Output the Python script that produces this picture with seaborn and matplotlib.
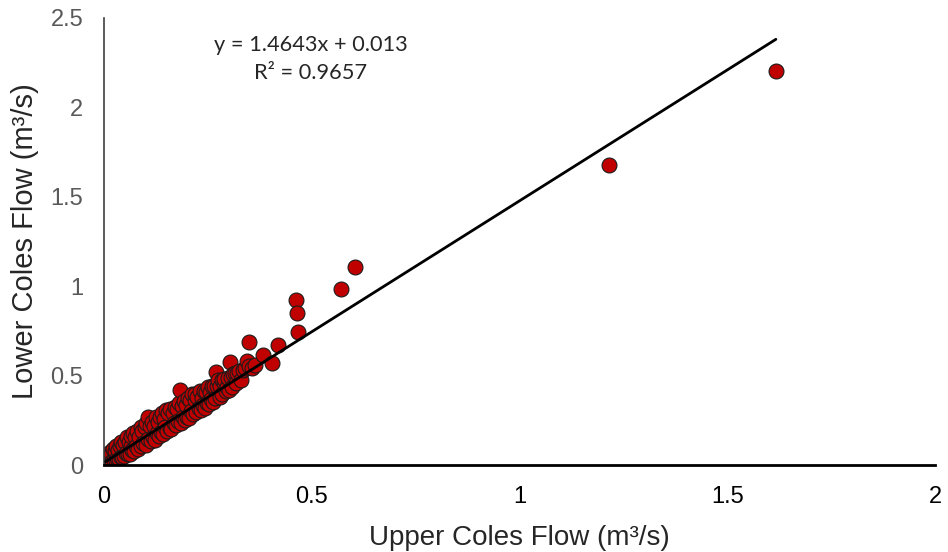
import numpy as np
import pandas as pd
import seaborn as sns
import matplotlib.pyplot as plt

# flows (m3/s)
upper_flow = [0.004, 0.006, 0.008, 0.010, 0.012, 0.014, 0.016, 0.018, 0.020, 0.022,
              0.024, 0.026, 0.028, 0.030, 0.032, 0.034, 0.036, 0.038, 0.040, 0.042,
              0.044, 0.046, 0.048, 0.050, 0.052, 0.055, 0.058, 0.060, 0.062, 0.064,
              0.066, 0.068, 0.070, 0.072, 0.075, 0.078, 0.080, 0.082, 0.085, 0.088,
              0.090, 0.092, 0.095, 0.098, 0.100, 0.102, 0.105, 0.107, 0.110, 0.112,
              0.115, 0.118, 0.120, 0.122, 0.125, 0.128, 0.130, 0.133, 0.135, 0.138,
              0.140, 0.143, 0.145, 0.148, 0.150, 0.152, 0.155, 0.158, 0.160, 0.162,
              0.165, 0.168, 0.170, 0.173, 0.175, 0.178, 0.180, 0.183, 0.185, 0.188,
              0.190, 0.193, 0.195, 0.198, 0.200, 0.203, 0.205, 0.208, 0.210, 0.213,
              0.215, 0.218, 0.220, 0.222, 0.225, 0.228, 0.230, 0.233, 0.235, 0.238,
              0.240, 0.243, 0.245, 0.248, 0.250, 0.253, 0.255, 0.258, 0.260, 0.263,
              0.265, 0.268, 0.270, 0.272, 0.275, 0.278, 0.280, 0.283, 0.285, 0.288,
              0.290, 0.293, 0.296, 0.298, 0.300, 0.303, 0.305, 0.308, 0.310, 0.315,
              0.318, 0.320, 0.325, 0.330, 0.335, 0.340, 0.344, 0.348, 0.350, 0.355,
              0.363, 0.383, 0.404, 0.419, 0.461, 0.465, 0.466, 0.570, 0.604, 1.215,
              1.617]
lower_flow = [0.014, 0.042, 0.015, 0.058, 0.021, 0.073, 0.021, 0.064, 0.022, 0.090,
              0.028, 0.081, 0.029, 0.107, 0.040, 0.083, 0.036, 0.109, 0.047, 0.129,
              0.047, 0.110, 0.048, 0.131, 0.069, 0.154, 0.063, 0.131, 0.064, 0.107,
              0.160, 0.083, 0.181, 0.078, 0.158, 0.107, 0.190, 0.088, 0.157, 0.212,
              0.105, 0.188, 0.122, 0.212, 0.114, 0.237, 0.147, 0.270, 0.219, 0.132,
              0.241, 0.156, 0.219, 0.142, 0.266, 0.180, 0.243, 0.163, 0.266, 0.185,
              0.293, 0.172, 0.255, 0.210, 0.305, 0.191, 0.290, 0.209, 0.312, 0.200,
              0.290, 0.234, 0.322, 0.221, 0.314, 0.244, 0.347, 0.418, 0.234, 0.328,
              0.271, 0.356, 0.254, 0.333, 0.271, 0.375, 0.263, 0.363, 0.301, 0.395,
              0.283, 0.362, 0.395, 0.298, 0.382, 0.317, 0.415, 0.309, 0.377, 0.337,
              0.414, 0.319, 0.407, 0.346, 0.439, 0.343, 0.411, 0.371, 0.444, 0.353,
              0.441, 0.375, 0.520, 0.441, 0.476, 0.380, 0.443, 0.477, 0.395, 0.460,
              0.483, 0.412, 0.436, 0.489, 0.417, 0.576, 0.490, 0.439, 0.507, 0.514,
              0.459, 0.517, 0.526, 0.476, 0.529, 0.541, 0.582, 0.690, 0.555, 0.540,
              0.559, 0.615, 0.570, 0.671, 0.923, 0.852, 0.742, 0.984, 1.107, 1.678,
              2.203]

# trendline as given on the chart
slope = 1.4643
intercept = 0.013
r_squared = 0.9657

x_ticks = [0, 0.5, 1, 1.5, 2]
x_tick_labels = ['0', '0.5', '1', '1.5', '2']
y_ticks = [0, 0.5, 1, 1.5, 2, 2.5]
y_tick_labels = ['0', '0.5', '1', '1.5', '2', '2.5']

df = pd.DataFrame({'upper': upper_flow, 'lower': lower_flow})

sns.set_style('white')
plt.rcParams['font.family'] = ['Liberation Sans', 'DejaVu Sans']

fig = plt.figure(figsize=(9.48, 5.52), dpi=100)
ax = fig.add_axes([0.1097, 0.1576, 0.8766, 0.8098])

line_x = np.array([df['upper'].min(), df['upper'].max()])
ax.plot(line_x, slope * line_x + intercept, color='black', lw=2, zorder=3)

sns.scatterplot(data=df, x='upper', y='lower', ax=ax, s=115, color='#C00000',
                edgecolor='#1a1a1a', linewidth=0.8, zorder=2)

ax.set_xlim(0, 2)
ax.set_ylim(0, 2.5)
ax.set_xticks(x_ticks)
ax.set_xticklabels(x_tick_labels)
ax.set_yticks(y_ticks)
ax.set_yticklabels(y_tick_labels)
ax.tick_params(axis='both', length=0, labelsize=17)
ax.tick_params(axis='x', labelcolor='black', pad=15)
ax.tick_params(axis='y', labelcolor='#595959', pad=15)

for side in ['top', 'right']:
    ax.spines[side].set_visible(False)
ax.spines['left'].set_color('#404040')
ax.spines['left'].set_linewidth(1.2)
ax.spines['bottom'].set_color('black')
ax.spines['bottom'].set_linewidth(2)

ax.set_xlabel('Upper Coles Flow (m\u00b3/s)', fontsize=20, labelpad=12)
ax.set_ylabel('Lower Coles Flow (m\u00b3/s)', fontsize=21, labelpad=8)

ax.text(0.497, 2.35, f'y = {slope}x + {intercept}', ha='center', va='center',
        fontsize=15.7, family=['Lato', 'DejaVu Sans'])
ax.text(0.497, 2.19, f'R\u00b2 = {r_squared}', ha='center', va='center',
        fontsize=15.7, family=['Lato', 'DejaVu Sans'])

fig.savefig('out.png', dpi=100)
